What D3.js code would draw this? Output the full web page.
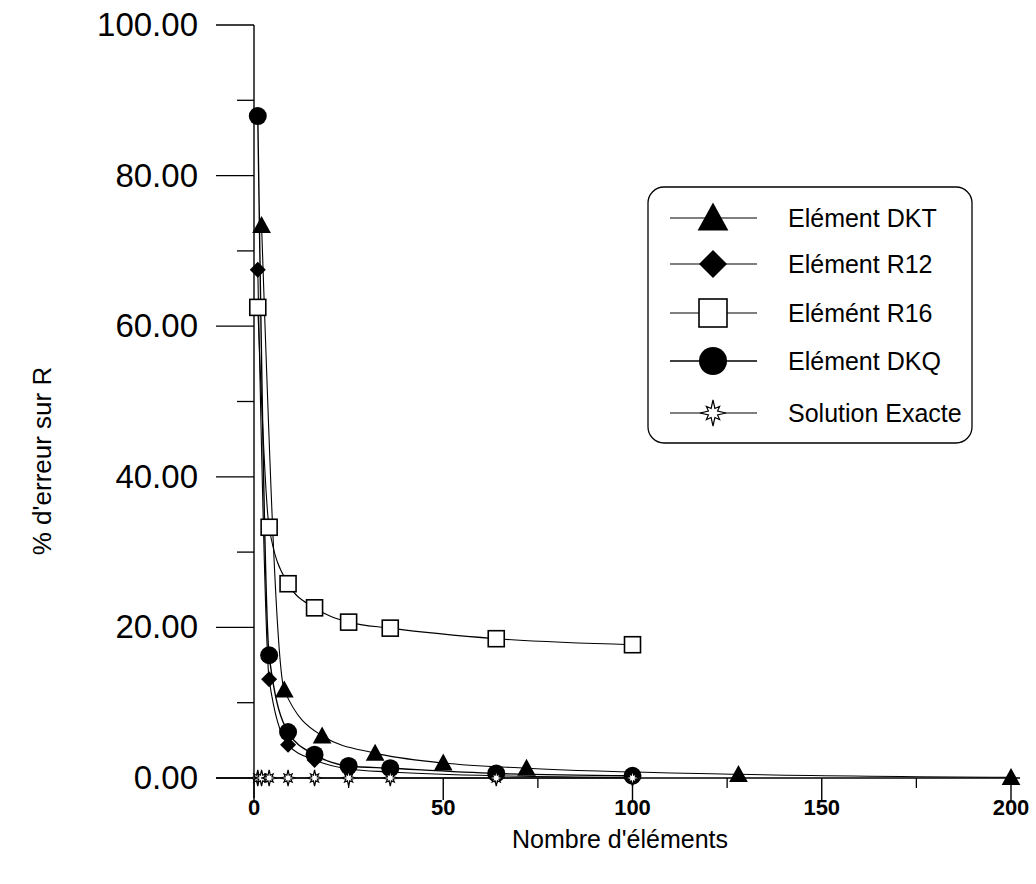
<!DOCTYPE html>
<html>
<head>
<meta charset="utf-8">
<script src="https://cdn.jsdelivr.net/npm/d3@7"></script>
<style>
  html, body { margin: 0; padding: 0; background: #fff; }
  svg { display: block; font-family: "Liberation Sans", Arial, sans-serif; }
</style>
</head>
<body>
<svg id="chart" width="1036" height="884"></svg>
<script>
// Number of elements in each mesh
const quadElements = [1, 4, 9, 16, 25, 36, 64, 100];
const triElements = [2, 8, 18, 32, 50, 72, 128, 200];
const exactElements = [1, 2, 4, 9, 16, 25, 36, 64, 100];

// Error (%) on R for each element type
const errDKT = [73.4, 11.7, 5.6, 3.3, 2.0, 1.3, 0.5, 0.1];
const errR12 = [67.5, 13.1, 4.4, 2.4, 1.2, 0.8, 0.3, 0.1];
const errR16 = [62.5, 33.3, 25.8, 22.6, 20.7, 19.9, 18.5, 17.7];
const errDKQ = [87.9, 16.3, 6.1, 3.1, 1.6, 1.3, 0.6, 0.3];
const errExact = [0, 0, 0, 0, 0, 0, 0, 0, 0];

const yMajorTicks = [0, 20, 40, 60, 80, 100];
const yMinorTicks = [10, 30, 50, 70, 90];
const xMajorTicks = [0, 50, 100, 150, 200];
const xMinorTicks = [25, 75, 125, 175];

const legendLabels = ["Elément DKT", "Elément R12", "Elémént R16", "Elément DKQ", "Solution Exacte"];

const svg = d3.select("#chart");
const x = d3.scaleLinear().domain([0, 200]).range([254, 1011]);
const y = d3.scaleLinear().domain([0, 100]).range([778, 25]);

// Marker shapes
function starPath(r) {
  const pts = [];
  for (let i = 0; i < 16; i++) {
    const a = i * Math.PI / 8 - Math.PI / 2;
    let rr;
    if (i % 2 === 1) rr = r * 0.38;
    else if (i % 4 === 0) rr = r;
    else rr = r * 0.72;
    pts.push([rr * Math.cos(a), rr * Math.sin(a)]);
  }
  return "M" + pts.map(p => p[0].toFixed(2) + "," + p[1].toFixed(2)).join("L") + "Z";
}
function drawMarker(g, type, s) {
  if (type === "triangle") {
    g.append("path").attr("d", `M0,${-s * 0.55}L${s * 0.55},${s * 0.45}L${-s * 0.55},${s * 0.45}Z`).attr("fill", "#000");
  } else if (type === "diamond") {
    g.append("path").attr("d", `M0,${-s / 2}L${s / 2},0L0,${s / 2}L${-s / 2},0Z`).attr("fill", "#000");
  } else if (type === "square") {
    g.append("rect").attr("x", -s / 2).attr("y", -s / 2).attr("width", s).attr("height", s)
      .attr("fill", "#fff").attr("stroke", "#000").attr("stroke-width", 1.6);
  } else if (type === "circle") {
    g.append("circle").attr("r", s / 2).attr("fill", "#000");
  } else if (type === "star") {
    g.append("path").attr("d", starPath(s / 2)).attr("fill", "#fff").attr("stroke", "#000").attr("stroke-width", 1.2);
  }
}

// Axes
const axisG = svg.append("g").attr("stroke", "#000");
axisG.append("line").attr("x1", x(0)).attr("x2", x(0)).attr("y1", y(100)).attr("y2", y(0) + 20).attr("stroke-width", 1.4);
axisG.append("line").attr("x1", 216).attr("x2", 1020).attr("y1", y(0)).attr("y2", y(0)).attr("stroke-width", 1.4);

axisG.selectAll(".ymaj").data(yMajorTicks).join("line")
  .attr("x1", 216).attr("x2", x(0)).attr("y1", d => y(d)).attr("y2", d => y(d)).attr("stroke-width", 1.3);
axisG.selectAll(".ymin").data(yMinorTicks).join("line")
  .attr("x1", 237).attr("x2", x(0)).attr("y1", d => y(d)).attr("y2", d => y(d)).attr("stroke-width", 1.3);
axisG.selectAll(".xmaj").data(xMajorTicks).join("line")
  .attr("x1", d => x(d)).attr("x2", d => x(d)).attr("y1", y(0)).attr("y2", y(0) + 22).attr("stroke-width", 1.4);
axisG.selectAll(".xmin").data(xMinorTicks).join("line")
  .attr("x1", d => x(d)).attr("x2", d => x(d)).attr("y1", y(0)).attr("y2", y(0) + 10).attr("stroke-width", 1.3);

svg.append("g").selectAll("text").data(yMajorTicks).join("text")
  .attr("x", 198).attr("y", d => y(d) + 11)
  .attr("text-anchor", "end").attr("font-size", 33)
  .text(d => d.toFixed(2));

svg.append("g").selectAll("text").data(xMajorTicks).join("text")
  .attr("x", d => x(d)).attr("y", 815)
  .attr("text-anchor", "middle").attr("font-size", 22).attr("font-weight", "bold")
  .text(d => d);

svg.append("text").attr("x", 620).attr("y", 848).attr("text-anchor", "middle")
  .attr("font-size", 25).text("Nombre d'éléments");
svg.append("text").attr("transform", "translate(51,461) rotate(-90)").attr("text-anchor", "middle")
  .attr("font-size", 26).text("% d'erreur sur R");

// Series
const series = [
  { xs: triElements, ys: errDKT, marker: "triangle", size: 17, width: 1.1 },
  { xs: quadElements, ys: errR12, marker: "diamond", size: 16, width: 1.1 },
  { xs: quadElements, ys: errR16, marker: "square", size: 16, width: 1.1 },
  { xs: quadElements, ys: errDKQ, marker: "circle", size: 18, width: 1.4 },
  { xs: exactElements, ys: errExact, marker: "star", size: 16, width: 1.1 }
];

const line = d3.line().x(d => x(d[0])).y(d => y(d[1])).curve(d3.curveMonotoneX);

series.forEach(s => {
  const pts = s.xs.map((v, i) => [v, s.ys[i]]);
  svg.append("path").datum(pts).attr("d", line)
    .attr("fill", "none").attr("stroke", "#000").attr("stroke-width", s.width);
});
series.forEach(s => {
  const pts = s.xs.map((v, i) => [v, s.ys[i]]);
  const g = svg.append("g");
  pts.forEach(p => {
    const m = g.append("g").attr("transform", `translate(${x(p[0])},${y(p[1])})`);
    drawMarker(m, s.marker, s.size);
  });
});

// Legend
const legend = svg.append("g");
legend.append("rect").attr("x", 648).attr("y", 187).attr("width", 324).attr("height", 256)
  .attr("rx", 16).attr("fill", "#fff").attr("stroke", "#000").attr("stroke-width", 1.3);
const rowY = [218, 264, 313, 361, 413];
series.forEach((s, i) => {
  const row = legend.append("g").attr("transform", `translate(0,${rowY[i]})`);
  row.append("line").attr("x1", 670).attr("x2", 757).attr("y1", 0).attr("y2", 0)
    .attr("stroke", "#000").attr("stroke-width", s.width);
  const m = row.append("g").attr("transform", "translate(713,0)");
  drawMarker(m, s.marker, s.marker === "star" ? 26 : 28);
  row.append("text").attr("x", 788).attr("y", 9).attr("font-size", 25).text(legendLabels[i]);
});
</script>
</body>
</html>
